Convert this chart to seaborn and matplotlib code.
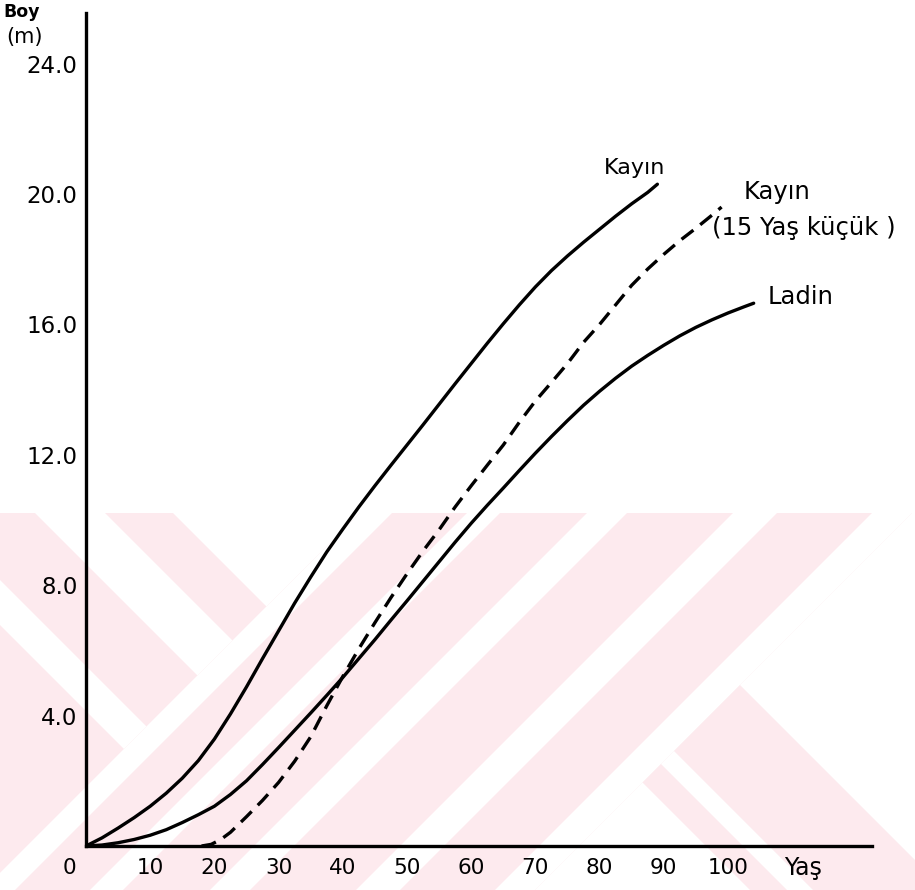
import matplotlib
matplotlib.use("Agg")
import matplotlib.pyplot as plt
import pandas as pd
import seaborn as sns
from matplotlib.patches import Polygon, Rectangle

# Height growth (m) against stand age (years)
kayin_age = [0, 2.5, 5, 7.5, 10, 12.5, 15, 17.5, 20, 22.5, 25, 27.5, 30, 32.5, 35, 37.5,
             40, 42.5, 45, 47.5, 50, 52.5, 55, 57.5, 60, 62.5, 65, 67.5, 70, 72.5, 75,
             77.5, 80, 82.5, 85, 87.5, 89]
kayin_boy = [0, 0.25, 0.55, 0.87, 1.22, 1.62, 2.08, 2.62, 3.28, 4.05, 4.88, 5.75, 6.6,
             7.45, 8.25, 9.02, 9.72, 10.4, 11.05, 11.68, 12.3, 12.92, 13.55, 14.18, 14.8,
             15.42, 16.02, 16.6, 17.15, 17.65, 18.1, 18.52, 18.92, 19.32, 19.7, 20.05, 20.3]

kayin15_age = [18, 19.5, 21, 22.5, 25, 27.5, 30, 32.5, 35, 37.5, 40, 42.5, 45, 47.5, 50,
               52.5, 55, 57.5, 60, 62.5, 65, 67.5, 70, 72.5, 75, 77.5, 80, 82.5, 85,
               87.5, 90, 92.5, 95, 97.5, 99]
kayin15_boy = [0, 0.05, 0.2, 0.42, 0.9, 1.4, 1.95, 2.6, 3.35, 4.3, 5.2, 6.05, 6.85, 7.62,
               8.35, 9.05, 9.7, 10.4, 11.05, 11.68, 12.3, 13.0, 13.65, 14.22, 14.8, 15.45,
               16.0, 16.6, 17.2, 17.7, 18.15, 18.57, 18.95, 19.35, 19.6]

ladin_age = [0, 2.5, 5, 7.5, 10, 12.5, 15, 17.5, 20, 22.5, 25, 27.5, 30, 32.5, 35, 37.5,
             40, 42.5, 45, 47.5, 50, 52.5, 55, 57.5, 60, 62.5, 65, 67.5, 70, 72.5, 75,
             77.5, 80, 82.5, 85, 87.5, 90, 92.5, 95, 97.5, 100, 102.5, 104]
ladin_boy = [0, 0.03, 0.1, 0.2, 0.33, 0.5, 0.72, 0.96, 1.22, 1.58, 2.0, 2.5, 3.02, 3.55,
             4.08, 4.62, 5.17, 5.75, 6.33, 6.93, 7.52, 8.12, 8.72, 9.32, 9.9, 10.45, 10.98,
             11.52, 12.05, 12.56, 13.05, 13.52, 13.95, 14.35, 14.72, 15.05, 15.36, 15.65,
             15.91, 16.14, 16.35, 16.54, 16.65]

y_ticks = [4, 8, 12, 16, 20, 24]
y_tick_labels = ["4.0", "8.0", "12.0", "16.0", "20.0", "24.0"]
x_ticks = [10, 20, 30, 40, 50, 60, 70, 80, 90, 100]
x_tick_labels = ["10", "20", "30", "40", "50", "60", "70", "80", "90", "100"]

sns.set_style("white")
plt.rcParams["font.family"] = ["DejaVu Sans"]
plt.rcParams["text.color"] = "black"
plt.rcParams["xtick.color"] = "black"
plt.rcParams["ytick.color"] = "black"

W, H = 915, 890
fig = plt.figure(figsize=(W / 100, H / 100), dpi=100)
fig.patch.set_facecolor("white")

# Faint pink emblem behind the chart, drawn in pixel space
bg = fig.add_axes([0, 0, 1, 1], zorder=-1)
bg.set_xlim(0, W)
bg.set_ylim(H, 0)
bg.axis("off")
pink = "#fdeaee"
top, bottom = 513, 890
area = Rectangle((0, top), W, bottom - top, facecolor="none", edgecolor="none")
bg.add_patch(area)


def add_poly(pts, color):
    p = Polygon(pts, facecolor=color, edgecolor="none")
    bg.add_patch(p)
    p.set_clip_path(area)


split_l, split_r = 873, 1425
# left arm: everything with x + y below split_l
add_poly([(0, top), (split_l - top, top), (split_l - bottom, bottom), (0, bottom)], pink)
for d1, d2 in [(-478, -408), (-625, -580)]:
    add_poly([(d1 + top, top), (d2 + top, top), ((split_l + d2) / 2, (split_l - d2) / 2),
              ((split_l + d1) / 2, (split_l - d1) / 2), (d1 + bottom, bottom)], "white")
add_poly([(-340 + top, top), (split_l - top, top), ((split_l - 340) / 2, (split_l + 340) / 2)],
         "white")
# middle: "/" stripes between split_l and split_r
add_poly([(split_l - top, top), (split_r - top, top), (split_r - bottom, bottom),
          (split_l - bottom, bottom)], pink)
for c1, c2 in [(873, 905), (980, 1013), (1100, 1140), (1246, 1290), (1385, 1425)]:
    add_poly([(c1 - top, top), (c2 - top, top), (c2 - bottom, bottom), (c1 - bottom, bottom)],
             "white")
# right arm: "\" stripes beyond split_r
for d1, d2 in [(-140, -103), (-77, 55)]:
    add_poly([((split_r + d1) / 2, (split_r - d1) / 2), ((split_r + d2) / 2, (split_r - d2) / 2),
              (bottom + d2 + 200, bottom + 200), (bottom + d1 + 200, bottom + 200)], pink)

# Main chart
x0, x1 = 86, 872
y0, y1 = 846, 13
x_scale, y_scale = 6.42, 32.6
ax = fig.add_axes([x0 / W, 1 - y0 / H, (x1 - x0) / W, (y0 - y1) / H])
ax.set_facecolor("none")

df_k = pd.DataFrame({"Yaş": kayin_age, "Boy": kayin_boy})
df_k15 = pd.DataFrame({"Yaş": kayin15_age, "Boy": kayin15_boy})
df_l = pd.DataFrame({"Yaş": ladin_age, "Boy": ladin_boy})

sns.lineplot(data=df_k, x="Yaş", y="Boy", ax=ax, color="black", lw=2.4,
             estimator=None, sort=False, solid_capstyle="round", solid_joinstyle="round")
sns.lineplot(data=df_l, x="Yaş", y="Boy", ax=ax, color="black", lw=2.4,
             estimator=None, sort=False, solid_capstyle="round", solid_joinstyle="round")
sns.lineplot(data=df_k15, x="Yaş", y="Boy", ax=ax, color="black", lw=2.4,
             estimator=None, sort=False, linestyle=(0, (4.5, 2.6)))

ax.set_xlim(0, (x1 - x0) / x_scale)
ax.set_ylim(0, (y0 - y1) / y_scale)
for side in ("top", "right"):
    ax.spines[side].set_visible(False)
for side in ("left", "bottom"):
    ax.spines[side].set_color("black")
    ax.spines[side].set_linewidth(2.4)

ax.set_yticks(y_ticks)
ax.set_yticklabels(y_tick_labels, fontsize=16.5)
ax.set_xticks(x_ticks)
ax.set_xticklabels(x_tick_labels, fontsize=15.5)
ax.tick_params(axis="y", direction="out", length=5, width=1.3, pad=1)
ax.tick_params(axis="x", direction="inout", length=5, width=1.0, pad=6)
ax.set_xlabel("")
ax.set_ylabel("")

ax.text(-2.65, -0.68, "0", ha="center", va="center", fontsize=15.5, clip_on=False)
ax.text(111.7, -0.68, "Yaş", ha="center", va="center", fontsize=17, clip_on=False)
fig.text(22 / W, 1 - 12 / H, "Boy", ha="center", va="center", fontsize=12.5, fontweight="bold")
fig.text(25 / W, 1 - 37 / H, "(m)", ha="center", va="center", fontsize=15)

ax.text(85.5, 20.8, "Kayın", ha="center", va="center", fontsize=16, clip_on=False)
ax.text(107.6, 20.07, "Kayın", ha="center", va="center", fontsize=17.5, clip_on=False)
ax.text(97.5, 18.96, "(15 Yaş küçük )", ha="left", va="center", fontsize=17.5, clip_on=False)
ax.text(106.2, 16.85, "Ladin", ha="left", va="center", fontsize=17.5, clip_on=False)

fig.savefig("out.png", dpi=100)
